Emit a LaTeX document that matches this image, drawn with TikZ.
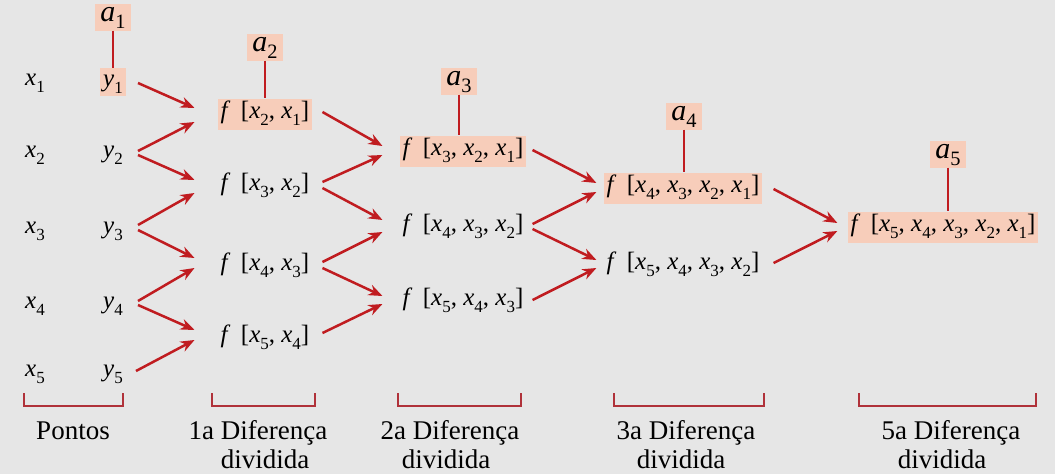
\documentclass[tikz,border=0pt]{standalone}
\usepackage{fontspec}
\setmainfont{Liberation Serif}
\usetikzlibrary{arrows.meta}
\definecolor{bg}{RGB}{230,230,230}
\definecolor{peach}{RGB}{247,205,186}
\definecolor{arrc}{RGB}{192,28,32}
\definecolor{brk}{RGB}{176,50,58}
\newcommand\sbx[2]{\textit{#1}\raisebox{-0.26em}{\fontsize{0.68em}{0.68em}\selectfont #2}}
\newcommand\fd[1]{\textit{f}\, [#1]}
\begin{document}
\begin{tikzpicture}[x=1pt,y=-1pt,
  m/.style={inner xsep=3pt, inner ysep=0pt, text height=17pt, text depth=8pt,
            minimum height=31pt, font=\fontsize{25}{28}\selectfont},
  hl/.style={m, fill=peach},
  yv/.style={m, minimum height=28pt},
  coef/.style={fill=peach, inner xsep=5pt, inner ysep=0pt, text height=15pt,
               text depth=7pt, minimum height=27pt, font=\fontsize{30}{32}\selectfont},
  ar/.style={draw=arrc, line width=2.5pt, -{Stealth[length=14pt,width=11pt]}},
  ln/.style={draw=arrc, line width=2pt},
  br/.style={draw=brk, line width=2.2pt},
  lab/.style={anchor=base, inner sep=0pt, font=\fontsize{27}{29}\selectfont}]
\fill[bg] (0,0) rectangle (1055,474);
\useasboundingbox (0,0) rectangle (1055,474);

% points
\node[m] (x1) at (35,81) {\sbx{x}{1}};
\node[m] (x2) at (35,153) {\sbx{x}{2}};
\node[m] (x3) at (35,229) {\sbx{x}{3}};
\node[m] (x4) at (35,304) {\sbx{x}{4}};
\node[m] (x5) at (35,372) {\sbx{x}{5}};
\node[yv, fill=peach] (y1) at (113,82) {\sbx{y}{1}};
\node[yv] (y2) at (113,153) {\sbx{y}{2}};
\node[yv] (y3) at (113,229) {\sbx{y}{3}};
\node[yv] (y4) at (113,304) {\sbx{y}{4}};
\node[yv] (y5) at (113,372) {\sbx{y}{5}};

% first differences
\node[hl] (f21) at (265,114) {\fd{\sbx{x}{2}, \sbx{x}{1}}};
\node[m] (f32) at (265,186) {\fd{\sbx{x}{3}, \sbx{x}{2}}};
\node[m] (f43) at (265,266) {\fd{\sbx{x}{4}, \sbx{x}{3}}};
\node[m] (f54) at (265,338) {\fd{\sbx{x}{5}, \sbx{x}{4}}};

% second differences
\node[hl] (g321) at (463,151) {\fd{\sbx{x}{3}, \sbx{x}{2}, \sbx{x}{1}}};
\node[m] (g432) at (463,227) {\fd{\sbx{x}{4}, \sbx{x}{3}, \sbx{x}{2}}};
\node[m] (g543) at (463,301) {\fd{\sbx{x}{5}, \sbx{x}{4}, \sbx{x}{3}}};

% third differences
\node[hl] (h4321) at (683,188) {\fd{\sbx{x}{4}, \sbx{x}{3}, \sbx{x}{2}, \sbx{x}{1}}};
\node[m] (h5432) at (683,265) {\fd{\sbx{x}{5}, \sbx{x}{4}, \sbx{x}{3}, \sbx{x}{2}}};

% fourth difference
\node[hl] (k) at (943,227) {\fd{\sbx{x}{5}, \sbx{x}{4}, \sbx{x}{3}, \sbx{x}{2}, \sbx{x}{1}}};

% coefficients
\node[coef] (a1) at (113,17) {\sbx{a}{1}};
\node[coef] (a2) at (265,47) {\sbx{a}{2}};
\node[coef] (a3) at (459,81) {\sbx{a}{3}};
\node[coef] (a4) at (684,116) {\sbx{a}{4}};
\node[coef] (a5) at (948,154) {\sbx{a}{5}};

\draw[ln] (a1.south) -- (a1.south |- y1.north);
\draw[ln] (a2.south) -- (a2.south |- f21.north);
\draw[ln] (a3.south) -- (a3.south |- g321.north);
\draw[ln] (a4.south) -- (a4.south |- h4321.north);
\draw[ln] (a5.south) -- (a5.south |- k.north);

% arrows column 1
\draw[ar] ([xshift=12pt,yshift=-1pt]y1.east) -- ([xshift=-23pt,yshift=6pt]f21.west);
\draw[ar] ([xshift=12pt,yshift=2pt]y2.east) -- ([xshift=-23pt,yshift=-8pt]f21.west);
\draw[ar] ([xshift=12pt,yshift=-2pt]y2.east) -- ([xshift=-23pt,yshift=6pt]f32.west);
\draw[ar] ([xshift=12pt,yshift=4pt]y3.east) -- ([xshift=-23pt,yshift=-7pt]f32.west);
\draw[ar] ([xshift=12pt,yshift=-1pt]y3.east) -- ([xshift=-23pt,yshift=8pt]f43.west);
\draw[ar] ([xshift=12pt,yshift=3pt]y4.east) -- ([xshift=-23pt,yshift=-2pt]f43.west);
\draw[ar] ([xshift=12pt,yshift=-1pt]y4.east) -- ([xshift=-23pt,yshift=8pt]f54.west);
\draw[ar] ([xshift=10pt,yshift=1pt]y5.east) -- ([xshift=-23pt,yshift=-2pt]f54.west);

% arrows column 2
\draw[ar] ([xshift=10pt,yshift=2pt]f21.east) -- ([xshift=-17pt,yshift=5pt]g321.west);
\draw[ar] ([xshift=10pt,yshift=4pt]f32.east) -- ([xshift=-17pt,yshift=-4pt]g321.west);
\draw[ar] ([xshift=10pt,yshift=-2pt]f32.east) -- ([xshift=-17pt,yshift=7pt]g432.west);
\draw[ar] ([xshift=10pt,yshift=4pt]f43.east) -- ([xshift=-17pt,yshift=-5pt]g432.west);
\draw[ar] ([xshift=10pt,yshift=-2pt]f43.east) -- ([xshift=-17pt,yshift=5pt]g543.west);
\draw[ar] ([xshift=10pt,yshift=5pt]f54.east) -- ([xshift=-17pt,yshift=-3pt]g543.west);

% arrows column 3
\draw[ar] ([xshift=6pt,yshift=1pt]g321.east) -- ([xshift=-7pt,yshift=5pt]h4321.west);
\draw[ar] ([xshift=6pt,yshift=3pt]g432.east) -- ([xshift=-7pt,yshift=-4pt]h4321.west);
\draw[ar] ([xshift=6pt,yshift=-2pt]g432.east) -- ([xshift=-7pt,yshift=5pt]h5432.west);
\draw[ar] ([xshift=6pt,yshift=1pt]g543.east) -- ([xshift=-7pt,yshift=-3pt]h5432.west);

% arrows column 4
\draw[ar] ([xshift=11pt,yshift=-1pt]h4321.east) -- ([xshift=-10pt,yshift=4pt]k.west);
\draw[ar] ([xshift=11pt,yshift=2pt]h5432.east) -- ([xshift=-10pt,yshift=-4pt]k.west);

% brackets
\draw[br] (24,393) -- (24,406) -- (123,406) -- (123,393);
\draw[br] (212,393) -- (212,406) -- (315,406) -- (315,393);
\draw[br] (398,393) -- (398,406) -- (521,406) -- (521,393);
\draw[br] (614,393) -- (614,406) -- (764,406) -- (764,393);
\draw[br] (859,393) -- (859,406) -- (1036,406) -- (1036,393);

% labels
\node[lab] (l0) at (73,439) {Pontos};
\node[lab] (l1a) at (258,439) {1a Diferença};
\node[lab] (l1b) at (265,468) {dividida};
\node[lab] (l2a) at (450,439) {2a Diferença};
\node[lab] (l2b) at (446,468) {dividida};
\node[lab] (l3a) at (686,439) {3a Diferença};
\node[lab] (l3b) at (681,468) {dividida};
\node[lab] (l5a) at (951,439) {5a Diferença};
\node[lab] (l5b) at (942,468) {dividida};
\end{tikzpicture}
\end{document}
